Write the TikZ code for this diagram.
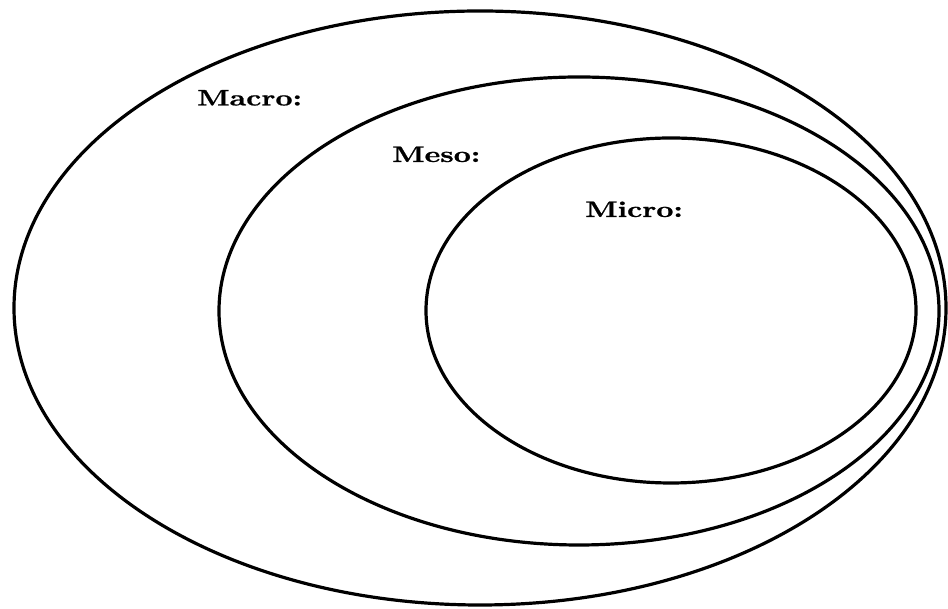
\documentclass[tikz,border=0pt]{standalone}
\usepackage{fontspec}
\newfontfamily\tagfont{lmroman10-bold.otf}[FakeBold=0.8]
\begin{document}
\begin{tikzpicture}[x=1pt,y=1pt,
  ring/.style={draw=black,line width=3.2pt},
  tag/.style={anchor=base west,inner sep=0pt,font=\fontsize{22.5}{26}\tagfont}]
\useasboundingbox (0,0) rectangle (948,609);
% three nested levels
\draw[ring] (480,301) ellipse [x radius=466, y radius=297];
\draw[ring] (579,298) ellipse [x radius=360, y radius=234];
\draw[ring] (671,298.5) ellipse [x radius=245, y radius=172.5];
% level names
\node[tag] (macro) at (197,503.5) {\scalebox{1.32}[1]{Macro:}};
\node[tag] (meso)  at (392,447)   {\scalebox{1.32}[1]{Meso:}};
\node[tag] (micro) at (585,392)   {\scalebox{1.32}[1]{Micro:}};
\end{tikzpicture}
\end{document}
